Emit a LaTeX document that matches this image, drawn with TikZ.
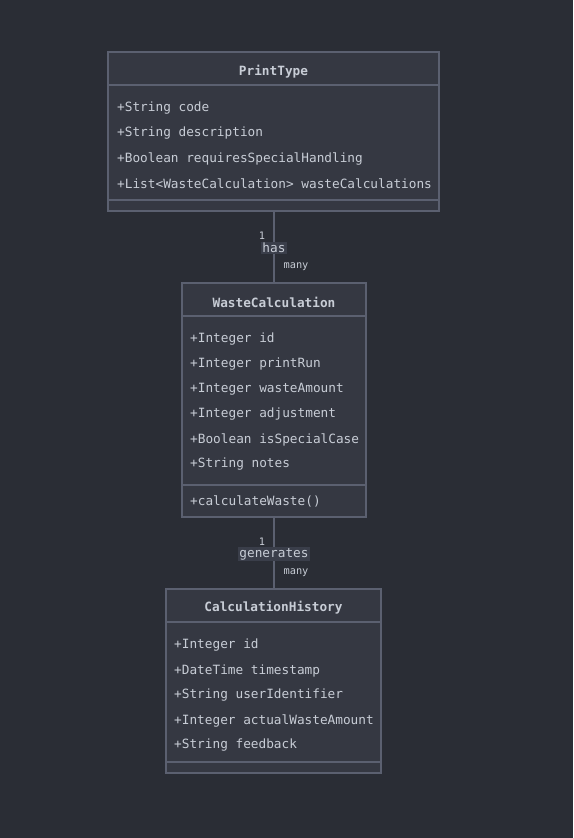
\documentclass[tikz,border=0pt]{standalone}
\usepackage{fontspec}
\setmonofont{DejaVu Sans Mono}
\definecolor{bgc}{HTML}{2A2D35}
\definecolor{boxfill}{HTML}{353842}
\definecolor{boxline}{HTML}{5B6070}
\definecolor{txt}{HTML}{C8CDD6}
\definecolor{lblbg}{HTML}{3A3E4A}
\tikzset{
  umlbox/.style={draw=boxline, fill=boxfill, line width=1.2pt, inner sep=0pt},
  divider/.style={draw=boxline, line width=1.2pt},
  attr/.style={anchor=west, inner sep=0pt, yshift=-1.5pt, text=txt, font=\ttfamily\fontsize{12.75}{14}\selectfont},
  title/.style={anchor=center, inner sep=0pt, yshift=-1pt, text=txt, font=\ttfamily\bfseries\fontsize{12.75}{14}\selectfont},
  conn/.style={draw=boxline, line width=1.2pt},
  rel/.style={fill=lblbg, text=txt, inner sep=1.5pt, yshift=-1pt, font=\ttfamily\fontsize{12.75}{14}\selectfont},
  mult/.style={text=txt, inner sep=0pt, font=\ttfamily\fontsize{10.3}{12}\selectfont}
}
\begin{document}
\begin{tikzpicture}[x=1pt,y=-1pt]
\path[fill=bgc] (0,0) rectangle (573,838);
\useasboundingbox (0,0) rectangle (573,838);

% PrintType
\node[umlbox, minimum width=331pt, minimum height=159pt] (pt) at (273.5,131.5) {};
\coordinate (pth) at (108,85);
\coordinate (ptd) at (108,200);
\draw[divider] (pth) -- (pth -| pt.east);
\draw[divider] (ptd) -- (ptd -| pt.east);
\node[title] (ptt) at (273.5,71) {PrintType};
\node[attr] (pa1) at (117,107) {+String code};
\node[attr] (pa2) at (117,132) {+String description};
\node[attr] (pa3) at (117,157) {+Boolean requiresSpecialHandling};
\node[attr] (pa4) at (117,182) {+List<WasteCalculation> wasteCalculations};

% WasteCalculation
\node[umlbox, minimum width=184pt, minimum height=234pt] (wc) at (274,400) {};
\coordinate (wch) at (182,316);
\coordinate (wcd) at (182,485);
\draw[divider] (wch) -- (wch -| wc.east);
\draw[divider] (wcd) -- (wcd -| wc.east);
\node[title] (wct) at (274,301) {WasteCalculation};
\node[attr] (wa1) at (190,338) {+Integer id};
\node[attr] (wa2) at (190,363) {+Integer printRun};
\node[attr] (wa3) at (190,388) {+Integer wasteAmount};
\node[attr] (wa4) at (190,413) {+Integer adjustment};
\node[attr] (wa5) at (190,438) {+Boolean isSpecialCase};
\node[attr] (wa6) at (190,463) {+String notes};
\node[attr] (wm1) at (190,500) {+calculateWaste()};

% CalculationHistory
\node[umlbox, minimum width=215pt, minimum height=184pt] (ch) at (273.5,681) {};
\coordinate (chh) at (166,622);
\coordinate (chd) at (166,762);
\draw[divider] (chh) -- (chh -| ch.east);
\draw[divider] (chd) -- (chd -| ch.east);
\node[title] (cht) at (273.5,607) {CalculationHistory};
\node[attr] (ca1) at (174,644) {+Integer id};
\node[attr] (ca2) at (174,669) {+DateTime timestamp};
\node[attr] (ca3) at (174,694) {+String userIdentifier};
\node[attr] (ca4) at (174,719) {+Integer actualWasteAmount};
\node[attr] (ca5) at (174,744) {+String feedback};

% connectors
\draw[conn] (pt.south -| wc.north) -- (wc.north);
\node[rel] (r1) at (274,247) {has};
\node[mult] (m1a) at (262,236) {1};
\node[mult] (m1b) at (296,267) {many};

\draw[conn] (wc.south) -- (wc.south |- ch.north);
\node[rel] (r2) at (274,553) {generates};
\node[mult] (m2a) at (262,542) {1};
\node[mult] (m2b) at (296,573) {many};
\end{tikzpicture}
\end{document}
